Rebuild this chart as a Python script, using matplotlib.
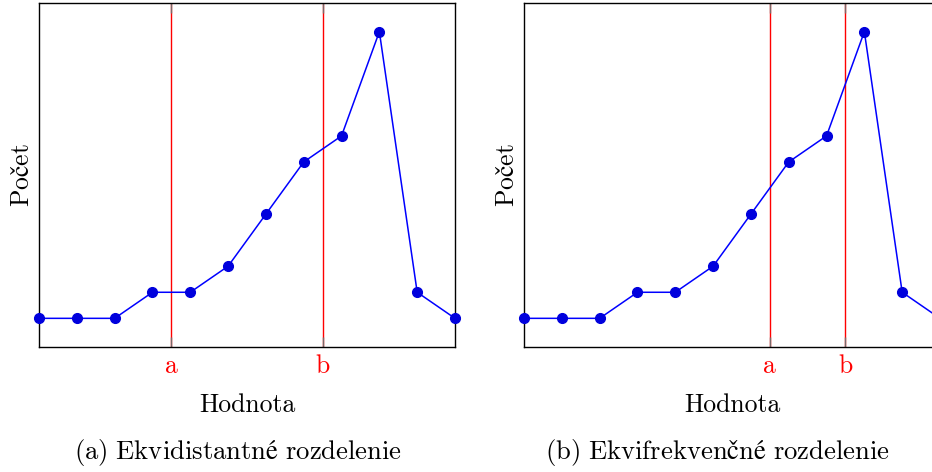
import matplotlib
matplotlib.use("Agg")
import matplotlib.pyplot as plt

plt.rcParams['font.family'] = ['cmr10', 'DejaVu Serif']
plt.rcParams['mathtext.fontset'] = 'cm'
plt.rcParams['font.size'] = 18.5

# bins and counts (same histogram in both panels)
bins = list(range(12))
counts = [1, 1, 1, 2, 2, 3, 5, 7, 8, 12, 2, 1]

# split points a, b
cuts_equal_width = [3.5, 7.5]
cuts_equal_freq = [6.5, 8.5]
cut_labels = ['a', 'b']

# text with accents goes through mathtext (cm) so č and é exist
xlabel = 'Hodnota'
ylabel = r'$\mathrm{Počet}$'
captions = [r'$\mathrm{(a)\ Ekvidistantné\ rozdelenie}$',
            r'$\mathrm{(b)\ Ekvifrekvenčné\ rozdelenie}$']

fig = plt.figure(figsize=(9.32, 4.72), dpi=100)
ax1 = fig.add_axes([39 / 932, 1 - 347 / 472, 416 / 932, 344 / 472])
ax2 = fig.add_axes([524 / 932, 1 - 347 / 472, 416 / 932, 344 / 472])

for ax, cuts in [(ax1, cuts_equal_width), (ax2, cuts_equal_freq)]:
    for c in cuts:
        ax.axvline(c, color='red', lw=1, zorder=1)
    ax.plot(bins, counts, color='#0000ff', lw=1.1, marker='o', ms=7,
            mfc='#0000dd', mec='#0000dd', clip_on=False, zorder=3)
    ax.set_xlim(0, 11)
    ax.set_ylim(-0.1, 13.1)
    ax.set_xticks(cuts, cut_labels)
    for lab in ax.get_xticklabels():
        lab.set_color('red')
    ax.set_yticks([])
    ax.tick_params(axis='x', direction='in', length=7, width=1, color='#7a6a6a',
                   top=True, pad=5)
    ax.set_xlabel(xlabel, labelpad=11)
    ax.set_ylabel(ylabel, labelpad=3.5)
    for s in ax.spines.values():
        s.set_linewidth(1)

fig.text(238 / 932, 1 - 453 / 472, captions[0], ha='center', va='center', fontsize=19.2)
fig.text(717 / 932, 1 - 453 / 472, captions[1], ha='center', va='center', fontsize=19.2)

fig.savefig('out.png', dpi=100)
